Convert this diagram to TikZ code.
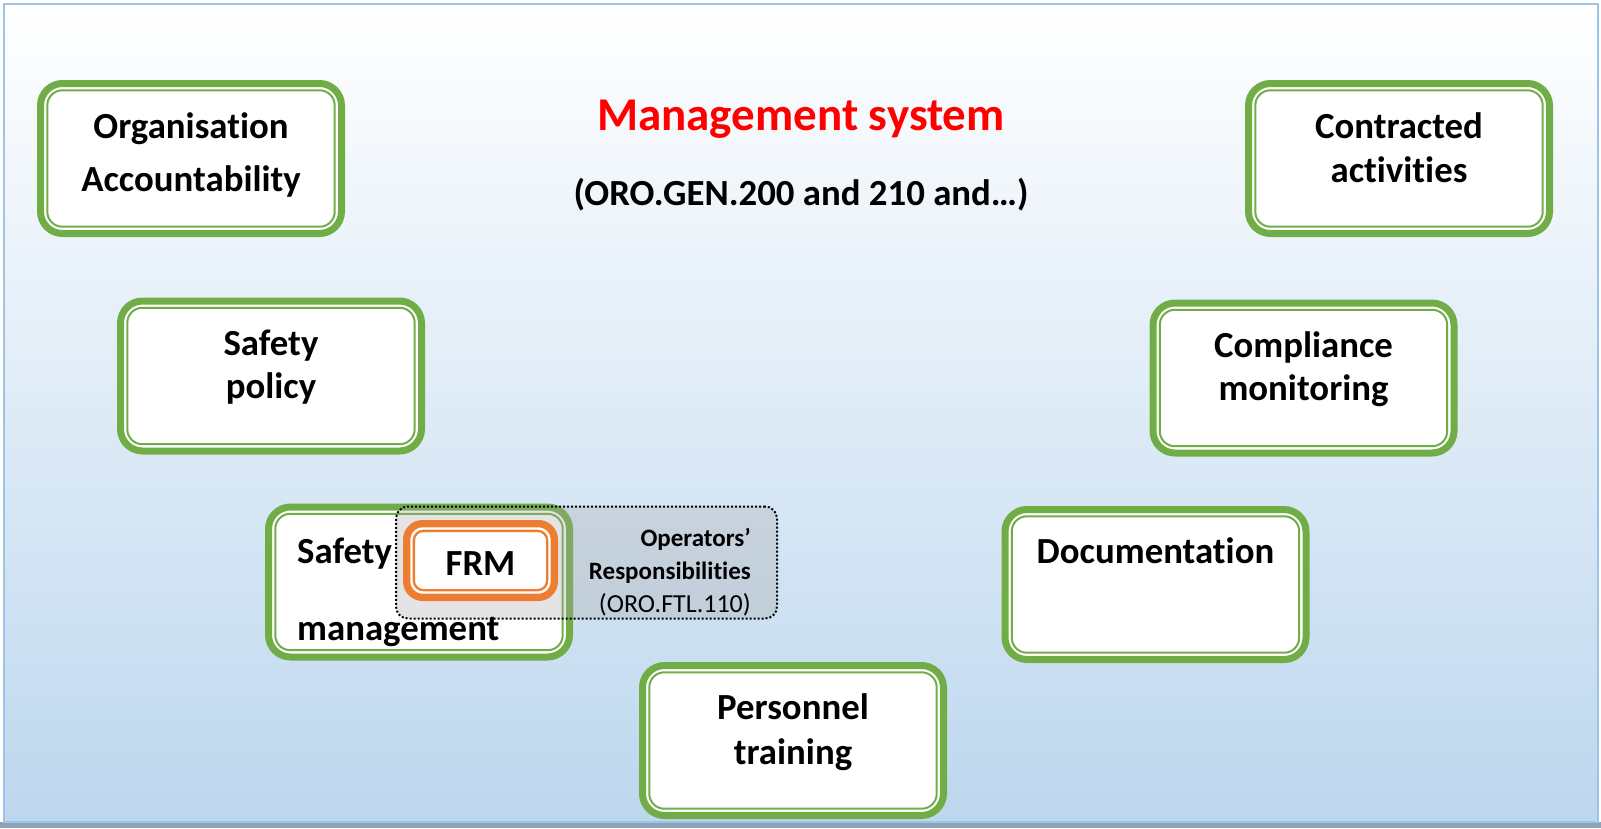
\documentclass[tikz,border=0pt]{standalone}
\usepackage{fontspec}
\setmainfont{Carlito}[Ligatures=CommonOff]
\definecolor{grn}{HTML}{70AD47}
\definecolor{orng}{HTML}{ED7D31}
\definecolor{bgblue}{HTML}{BDD7EE}
\definecolor{frameblue}{HTML}{9DC3E6}
\definecolor{shadowgray}{HTML}{8FA3B8}
\definecolor{ttlred}{HTML}{FF0000}
\begin{document}
\begin{tikzpicture}[x=1pt,y=-1pt,
  gbox/.style={draw=grn, line width=7pt, fill=white, rounded corners=22pt,
    minimum width=301pt, minimum height=150pt, inner sep=0pt},
  ginner/.style={draw=grn, line width=2pt, rounded corners=15pt,
    minimum width=287.4pt, minimum height=136.4pt, inner sep=0pt},
  obox/.style={draw=orng, line width=7.3pt, fill=white, rounded corners=16pt,
    minimum width=147.7pt, minimum height=73.7pt, inner sep=0pt},
  oinner/.style={draw=orng, line width=2.3pt, rounded corners=9.5pt,
    minimum width=133.3pt, minimum height=59.3pt, inner sep=0pt},
  zone/.style={draw=black, line width=2pt, dotted, rounded corners=12pt,
    fill=black!35, fill opacity=0.3, minimum width=381pt, minimum height=112pt, inner sep=0pt},
  lbl/.style={font=\fontsize{36.8}{44}\selectfont\bfseries, anchor=base, inner sep=0pt},
  small/.style={font=\fontsize{26}{30}\selectfont, anchor=base east, inner sep=0pt},
]
\useasboundingbox (0,0) rectangle (1601,828);
\fill[shadowgray] (0,822) rectangle (1601,828);
\draw[frameblue, line width=2.5pt, top color=white, bottom color=bgblue] (4,4) rectangle (1598,822);

% green boxes with inner thin line
\foreach \n/\x/\y in {org/191/158.5, contr/1399/158.5, spol/271/376, comp/1303.5/378,
                      sman/419/582, doc/1155.5/584.5, pers/793/740.5} {
  \node[gbox] (\n) at (\x,\y) {};
  \node[ginner] (\n-in) at (\n.center) {};
}

% operators' responsibilities zone
\node[zone] (zone) at (586.5,562.5) {};

% FRM box
\node[obox] (frm) at (480.5,560.5) {};
\node[oinner] (frm-in) at (frm.center) {};

% titles
\node[lbl, font=\fontsize{47}{56}\selectfont\bfseries, text=ttlred] (title) at (801,130) {Management system};
\node[lbl] (subtitle) at (801,205) {(ORO.GEN.200 and 210 and…)};

% box texts
\node[lbl] (orgA) at (191,138) {Organisation};
\node[lbl] (orgB) at (191,191) {Accountability};
\node[lbl] (conA) at (1399,138) {Contracted};
\node[lbl] (conB) at (1399,182) {activities};
\node[lbl] (spA) at (271,355) {Safety};
\node[lbl] (spB) at (271,398) {policy};
\node[lbl] (cmA) at (1303.5,357) {Compliance};
\node[lbl] (cmB) at (1303.5,400) {monitoring};
\node[lbl] (docA) at (1155.5,563) {Documentation};
\node[lbl] (peA) at (793,719) {Personnel};
\node[lbl] (peB) at (793,764) {training};
\node[lbl, anchor=base west] (smA) at (297,563) {Safety};
\node[lbl, anchor=base west] (smB) at (297,640) {management};
\node[lbl] (frmT) at (480.5,575) {FRM};
\node[small, font=\fontsize{25}{30}\selectfont\bfseries] (opA) at (751,546) {Operators’};
\node[small, font=\fontsize{25}{30}\selectfont\bfseries] (opB) at (751,579) {Responsibilities};
\node[small] (opC) at (751,612) {(ORO.FTL.110)};
\end{tikzpicture}
\end{document}
